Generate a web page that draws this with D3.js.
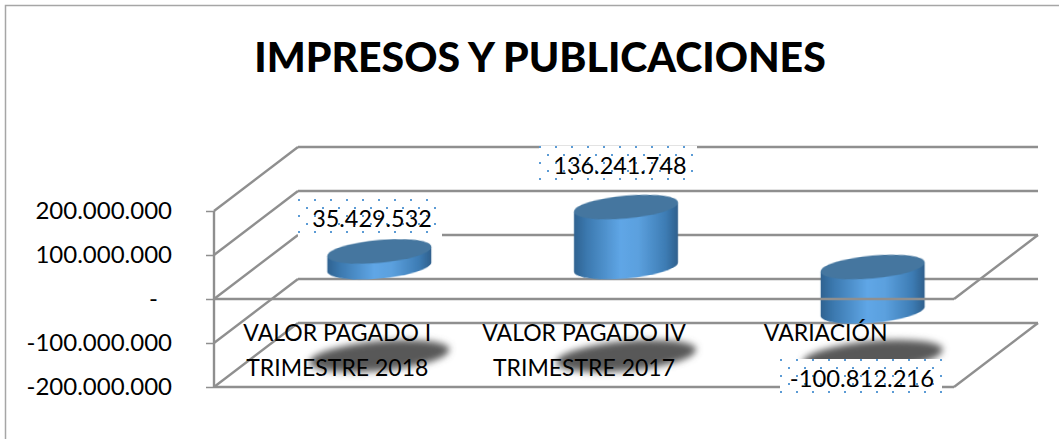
<!DOCTYPE html>
<html><head><meta charset="utf-8">
<script src="https://cdn.jsdelivr.net/npm/d3@7/dist/d3.min.js"></script>
<style>html,body{margin:0;padding:0;background:#fff}svg{display:block}text{font-family:Lato,"Open Sans",sans-serif;fill:#000}</style>
</head><body><svg id="c" width="1059" height="439"></svg>
<script>
const title = "IMPRESOS Y PUBLICACIONES";
const categories = [["VALOR PAGADO I","TRIMESTRE 2018"],["VALOR PAGADO IV","TRIMESTRE 2017"],["VARIACIÓN"]];
const values = [35429532, 136241748, -100812216];
const valueLabels = ["35.429.532","136.241.748","-100.812.216"];
const tickValues = [200000000,100000000,0,-100000000,-200000000];
const tickLabels = ["200.000.000","100.000.000","-","-100.000.000","-200.000.000"];

const svg = d3.select("#c");
const W = 1059, H = 439;
const plot = {l:214, r:954, t:211, b:387};
const depth = {x:84, y:-64};
const x = d3.scaleBand().domain(d3.range(categories.length)).range([plot.l, plot.r]);
const y = d3.scaleLinear().domain([-200000000,200000000]).range([plot.b, plot.t]);
const GRID = "#8f8f8f";

const defs = svg.append("defs");
const g = defs.append("linearGradient").attr("id","side");
[[0,"#2f6290"],[0.12,"#3b78ae"],[0.45,"#5fa6e6"],[0.62,"#5ba0de"],[0.88,"#3d7cb4"],[1,"#2f5f8c"]]
  .forEach(s=>g.append("stop").attr("offset",s[0]).attr("stop-color",s[1]));
defs.append("filter").attr("id","blur").attr("x","-20%").attr("y","-50%").attr("width","140%").attr("height","200%")
  .append("feGaussianBlur").attr("stdDeviation",3.5);
defs.append("filter").attr("id","soft").attr("x","-5%").attr("y","-5%").attr("width","110%").attr("height","110%")
  .append("feGaussianBlur").attr("stdDeviation",0.5);
const pat = defs.append("pattern").attr("id","dots").attr("patternUnits","userSpaceOnUse").attr("width",16).attr("height",16);
pat.append("rect").attr("width",2).attr("height",2).attr("fill","#5b9bd5");
pat.append("rect").attr("x",8).attr("y",8).attr("width",2).attr("height",2).attr("fill","#5b9bd5");

// outer frame
svg.append("path").attr("d",`M5.5,${H}V5.5H${W}`).attr("fill","none").attr("stroke","#a6a6a6").attr("stroke-width",1.5);

// title
svg.append("text").attr("x",540).attr("y",72).attr("text-anchor","middle")
  .attr("font-size",41).attr("font-weight",900).text(title);

const line = (sel,x1,y1,x2,y2,w=2.4)=>sel.append("line").attr("x1",x1).attr("y1",y1).attr("x2",x2).attr("y2",y2)
  .attr("stroke",GRID).attr("stroke-width",w);

// back wall and left wall
const walls = svg.append("g");
tickValues.forEach(v=>{
  line(walls,plot.l+depth.x,y(v)+depth.y,plot.r+depth.x,y(v)+depth.y);
  line(walls,plot.l,y(v),plot.l+depth.x,y(v)+depth.y);
});
// shadows on the floor
const barX = i => x(i)+x.bandwidth()/2+depth.x/2;
const midY = v => y(v)+depth.y/2;
const tilt = -5, rx = 52, ry = 11.5;
svg.append("g").selectAll("ellipse").data(values).join("ellipse")
  .attr("transform",(d,i)=>`translate(${barX(i)},${midY(-200000000)+1}) skewY(${tilt})`)
  .attr("rx",70).attr("ry",15).attr("fill","#585858").attr("filter","url(#blur)");

// cylinders
const bars = svg.append("g").selectAll("g").data(values).join("g")
  .attr("transform",(d,i)=>`translate(${barX(i)},${midY(Math.max(d,0))}) skewY(${tilt})`)
  .attr("filter","url(#soft)");
bars.append("path")
  .attr("d",d=>{const h=Math.abs(y(d)-y(0));return `M${-rx},0V${h}A${rx},${ry} 0 0 0 ${rx},${h}V0Z`;})
  .attr("fill","url(#side)");
bars.append("ellipse").attr("rx",rx).attr("ry",ry).attr("fill","#44769f");

// floor outline at the zero plane and the bottom plane, plus the axis
[0,-200000000].forEach(v=>{
  line(svg,plot.l,y(v),plot.r,y(v));
  line(svg,plot.r,y(v),plot.r+depth.x,y(v)+depth.y);
});
const axis = d3.axisLeft(y).tickValues(tickValues).tickSize(8).tickPadding(34)
  .tickFormat((d,i)=>tickLabels[i]);
const ax = svg.append("g").attr("transform",`translate(${plot.l},0)`).call(axis);
ax.select(".domain").attr("stroke",GRID).attr("stroke-width",2.4).attr("d",`M0,${plot.t}V${plot.b}`);
ax.selectAll(".tick line").attr("stroke",GRID).attr("stroke-width",1.5);
ax.selectAll(".tick text").attr("font-size",24).attr("font-family","Lato").attr("fill","#000")
  .attr("dx",(d)=>d===0?-14:0);

// category labels
const cat = svg.append("g").selectAll("text").data(categories).join("text")
  .attr("text-anchor","middle").attr("font-size",23);
cat.selectAll("tspan").data((d,i)=>d.map(t=>({t,i}))).join("tspan")
  .attr("x",d=>x(d.i)+x.bandwidth()/2-(d.i==2?5:0))
  .attr("y",(d,j)=>341+j*34.5)
  .text(d=>d.t);

// data labels
const labelOffsets = [{dy:-32,w:144,tx:0},{dy:-41,w:158,tx:0},{dy:68,w:162,tx:-1}];
const lab = svg.append("g").selectAll("g").data(values).join("g")
  .attr("transform",(d,i)=>{
    const o=labelOffsets[i];
    const base = midY(d);
    return `translate(${Math.round(barX(i)-o.w/2-(i==0?9:i==1?8:12))},${Math.round(base+o.dy-20)})`;
  });
lab.append("rect").attr("width",(d,i)=>labelOffsets[i].w).attr("height",40).attr("fill","#fff");
lab.append("rect").attr("width",(d,i)=>labelOffsets[i].w).attr("height",40).attr("fill","url(#dots)");
lab.append("text").attr("x",(d,i)=>labelOffsets[i].w/2+2+labelOffsets[i].tx).attr("y",28).attr("text-anchor","middle")
  .attr("font-size",(d,i)=>i==2?23.8:23.4).text((d,i)=>valueLabels[i]);
</script></body></html>
